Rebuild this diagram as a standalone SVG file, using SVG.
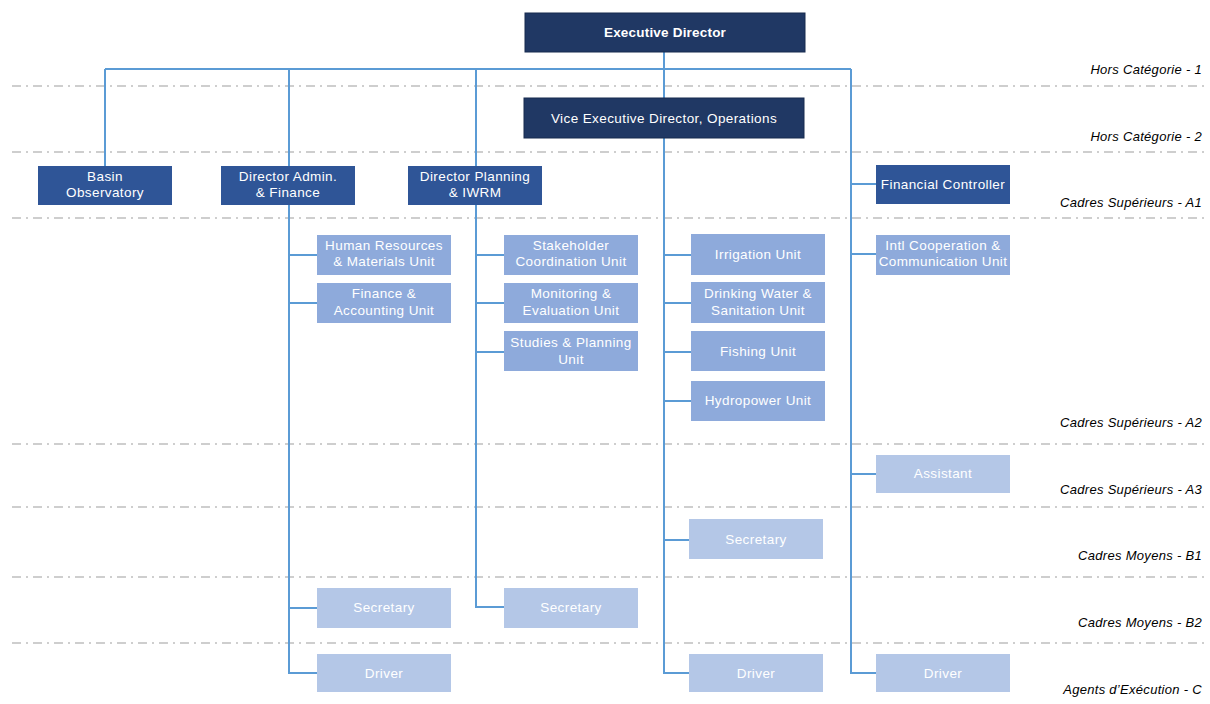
<svg xmlns="http://www.w3.org/2000/svg" width="1210" height="704" viewBox="0 0 1210 704">
<style>
.bg{fill:#ffffff}
.grade{stroke:#bfbfbf;stroke-width:1.6;stroke-dasharray:9 5 2 5;fill:none}
.lbl{font-family:"Liberation Sans",Arial,sans-serif;font-style:italic;font-size:13px;letter-spacing:0.3px;fill:#000;text-anchor:end}
.conn{stroke:#5b9bd5;stroke-width:2;fill:none}
.t{font-family:"Liberation Sans",Arial,sans-serif;font-size:13.5px;letter-spacing:0.4px;fill:#fff;text-anchor:middle}
.top rect{fill:#203864;stroke:#172a4e;stroke-width:1}
.top text{font-weight:bold;letter-spacing:0.2px}
.dir rect{fill:#2f5597}
.unit rect{fill:#8eaadb}
.sup rect{fill:#b4c7e7}
</style>
<rect class="bg" x="0" y="0" width="1210" height="704"/>
<g id="grades">
<line class="grade" x1="12" y1="86" x2="1206" y2="86"/>
<line class="grade" x1="12" y1="152" x2="1206" y2="152"/>
<line class="grade" x1="12" y1="218" x2="1206" y2="218"/>
<line class="grade" x1="12" y1="444" x2="1206" y2="444"/>
<line class="grade" x1="12" y1="507" x2="1206" y2="507"/>
<line class="grade" x1="12" y1="577" x2="1206" y2="577"/>
<line class="grade" x1="12" y1="643" x2="1206" y2="643"/>
<text class="lbl" x="1202" y="74">Hors Catégorie - 1</text>
<text class="lbl" x="1202" y="141">Hors Catégorie - 2</text>
<text class="lbl" x="1202" y="207">Cadres Supérieurs - A1</text>
<text class="lbl" x="1202" y="427">Cadres Supérieurs - A2</text>
<text class="lbl" x="1202" y="494">Cadres Supérieurs - A3</text>
<text class="lbl" x="1202" y="560">Cadres Moyens - B1</text>
<text class="lbl" x="1202" y="627">Cadres Moyens - B2</text>
<text class="lbl" x="1202" y="694">Agents d’Exécution - C</text>
</g>
<g id="connectors">
<line class="conn" x1="105" y1="69" x2="851" y2="69"/>
<line class="conn" x1="664" y1="52" x2="664" y2="673"/>
<line class="conn" x1="105" y1="69" x2="105" y2="166"/>
<line class="conn" x1="289" y1="69" x2="289" y2="673"/>
<line class="conn" x1="476" y1="69" x2="476" y2="607"/>
<line class="conn" x1="851" y1="69" x2="851" y2="673"/>
<line class="conn" x1="288" y1="255" x2="317" y2="255"/>
<line class="conn" x1="288" y1="303" x2="317" y2="303"/>
<line class="conn" x1="288" y1="608" x2="317" y2="608"/>
<line class="conn" x1="288" y1="673" x2="317" y2="673"/>
<line class="conn" x1="475" y1="255" x2="504" y2="255"/>
<line class="conn" x1="475" y1="303" x2="504" y2="303"/>
<line class="conn" x1="475" y1="352" x2="504" y2="352"/>
<line class="conn" x1="475" y1="607" x2="504" y2="607"/>
<line class="conn" x1="663" y1="255" x2="691" y2="255"/>
<line class="conn" x1="663" y1="303" x2="691" y2="303"/>
<line class="conn" x1="663" y1="352" x2="691" y2="352"/>
<line class="conn" x1="663" y1="401" x2="691" y2="401"/>
<line class="conn" x1="663" y1="540" x2="689" y2="540"/>
<line class="conn" x1="663" y1="673" x2="689" y2="673"/>
<line class="conn" x1="850" y1="184" x2="876" y2="184"/>
<line class="conn" x1="850" y1="254" x2="876" y2="254"/>
<line class="conn" x1="850" y1="474" x2="876" y2="474"/>
<line class="conn" x1="850" y1="673" x2="876" y2="673"/>
</g>
<g id="exec" class="top"><rect x="525" y="13" width="280" height="39"/><text class="t" x="665" y="37">Executive Director</text></g>
<g id="vice" class="top"><rect x="524" y="98" width="280" height="40"/><text class="t" x="664" y="122.5" style="font-weight:normal;letter-spacing:0.4px">Vice Executive Director, Operations</text></g>
<g id="basin" class="dir"><rect x="38" y="166" width="134" height="39"/><text class="t" x="105" y="181">Basin</text><text class="t" x="105" y="197">Observatory</text></g>
<g id="diradmin" class="dir"><rect x="221" y="166" width="134" height="39"/><text class="t" x="288" y="181">Director Admin.</text><text class="t" x="288" y="197">&amp; Finance</text></g>
<g id="dirplan" class="dir"><rect x="408" y="166" width="134" height="39"/><text class="t" x="475" y="181">Director Planning</text><text class="t" x="475" y="197">&amp; IWRM</text></g>
<g id="finctrl" class="dir"><rect x="876" y="165" width="134" height="39"/><text class="t" x="943" y="189">Financial Controller</text></g>
<g id="hr" class="unit"><rect x="317" y="235" width="134" height="40"/><text class="t" x="384" y="250">Human Resources</text><text class="t" x="384" y="266">&amp; Materials Unit</text></g>
<g id="finacc" class="unit"><rect x="317" y="283" width="134" height="40"/><text class="t" x="384" y="298">Finance &amp;</text><text class="t" x="384" y="315">Accounting Unit</text></g>
<g id="stake" class="unit"><rect x="504" y="235" width="134" height="40"/><text class="t" x="571" y="250">Stakeholder</text><text class="t" x="571" y="266">Coordination Unit</text></g>
<g id="monit" class="unit"><rect x="504" y="283" width="134" height="40"/><text class="t" x="571" y="298">Monitoring &amp;</text><text class="t" x="571" y="315">Evaluation Unit</text></g>
<g id="studies" class="unit"><rect x="504" y="331" width="134" height="40"/><text class="t" x="571" y="347">Studies &amp; Planning</text><text class="t" x="571" y="364">Unit</text></g>
<g id="irrig" class="unit"><rect x="691" y="234" width="134" height="41"/><text class="t" x="758" y="258.5">Irrigation Unit</text></g>
<g id="water" class="unit"><rect x="691" y="282" width="134" height="41"/><text class="t" x="758" y="298">Drinking Water &amp;</text><text class="t" x="758" y="315">Sanitation Unit</text></g>
<g id="fish" class="unit"><rect x="691" y="331" width="134" height="40"/><text class="t" x="758" y="355.5">Fishing Unit</text></g>
<g id="hydro" class="unit"><rect x="691" y="381" width="134" height="40"/><text class="t" x="758" y="404.5">Hydropower Unit</text></g>
<g id="intl" class="unit"><rect x="876" y="235" width="134" height="40"/><text class="t" x="943" y="250">Intl Cooperation &amp;</text><text class="t" x="943" y="266">Communication Unit</text></g>
<g id="assistant" class="sup"><rect x="876" y="455" width="134" height="38"/><text class="t" x="943" y="477.5">Assistant</text></g>
<g id="secvice" class="sup"><rect x="689" y="519" width="134" height="40"/><text class="t" x="756" y="543.5">Secretary</text></g>
<g id="secadmin" class="sup"><rect x="317" y="588" width="134" height="40"/><text class="t" x="384" y="611.5">Secretary</text></g>
<g id="secplan" class="sup"><rect x="504" y="588" width="134" height="40"/><text class="t" x="571" y="611.5">Secretary</text></g>
<g id="driver1" class="sup"><rect x="317" y="654" width="134" height="38"/><text class="t" x="384" y="677.5">Driver</text></g>
<g id="driver2" class="sup"><rect x="689" y="654" width="134" height="38"/><text class="t" x="756" y="677.5">Driver</text></g>
<g id="driver3" class="sup"><rect x="876" y="654" width="134" height="38"/><text class="t" x="943" y="677.5">Driver</text></g>
</svg>
